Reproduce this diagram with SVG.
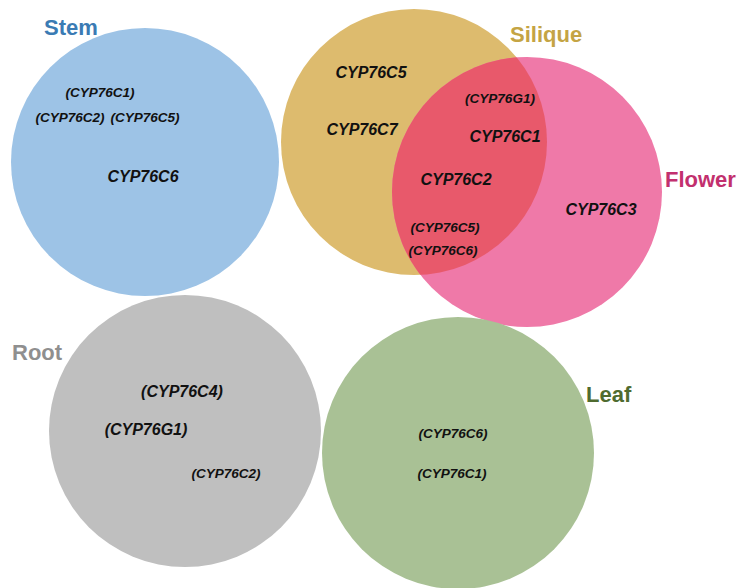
<svg xmlns="http://www.w3.org/2000/svg" width="741" height="588" viewBox="0 0 741 588">
<style>
.title{font-family:"Liberation Sans",Arial,sans-serif;font-weight:bold;font-size:22px}
.gene{font-family:"Liberation Sans",Arial,sans-serif;font-weight:bold;font-style:italic;fill:#111;text-anchor:middle}
.big{font-size:16px}
.small{font-size:13.5px}
</style>
<defs>
<clipPath id="siliqueClip"><circle cx="414" cy="142" r="133"/></clipPath>
</defs>
<rect width="741" height="588" fill="#ffffff"/>
<g id="stem">
<circle cx="145" cy="162" r="134" fill="#9DC3E6"/>
<text class="title" x="44" y="35" fill="#3A7BB4">Stem</text>
<text class="gene small" x="100" y="97">(CYP76C1)</text>
<text class="gene small" x="70" y="122">(CYP76C2)</text>
<text class="gene small" x="145" y="122">(CYP76C5)</text>
<text class="gene big" x="143" y="182">CYP76C6</text>
</g>
<g id="silique">
<circle cx="414" cy="142" r="133" fill="#DDBB6E"/>
<text class="title" x="510" y="42" fill="#C4A444">Silique</text>
<text class="gene big" x="371" y="78">CYP76C5</text>
<text class="gene big" x="362" y="135">CYP76C7</text>
</g>
<g id="flower">
<circle cx="527" cy="192" r="135" fill="#EF79A8"/>
<text class="title" x="665" y="187" fill="#C2306E">Flower</text>
<text class="gene big" x="601" y="215">CYP76C3</text>
</g>
<g id="silique-flower">
<circle cx="527" cy="192" r="135" fill="#E8596B" clip-path="url(#siliqueClip)"/>
<text class="gene small" x="500" y="103">(CYP76G1)</text>
<text class="gene big" x="505" y="142">CYP76C1</text>
<text class="gene big" x="456" y="185">CYP76C2</text>
<text class="gene small" x="445" y="232">(CYP76C5)</text>
<text class="gene small" x="443" y="255">(CYP76C6)</text>
</g>
<g id="root">
<circle cx="185" cy="431" r="136" fill="#BFBFBF"/>
<text class="title" x="12" y="360" fill="#8F8F8F">Root</text>
<text class="gene big" x="182" y="397">(CYP76C4)</text>
<text class="gene big" x="146" y="435">(CYP76G1)</text>
<text class="gene small" x="226" y="478">(CYP76C2)</text>
</g>
<g id="leaf">
<circle cx="458" cy="453" r="136" fill="#A9C195"/>
<text class="title" x="586" y="402" fill="#4F6B2F">Leaf</text>
<text class="gene small" x="453" y="438">(CYP76C6)</text>
<text class="gene small" x="452" y="478">(CYP76C1)</text>
</g>
</svg>
